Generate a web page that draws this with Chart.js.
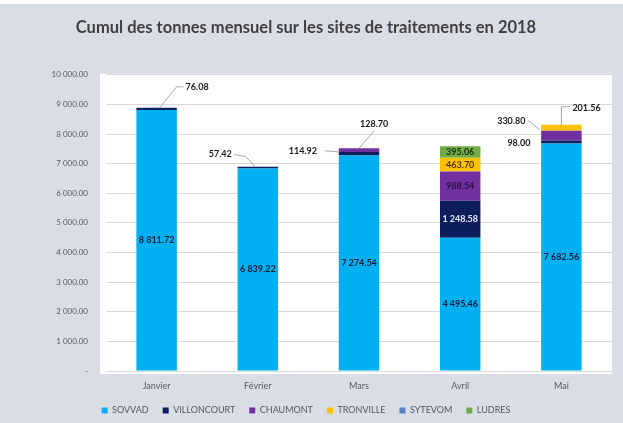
<!DOCTYPE html>
<html>
<head>
  <meta charset="utf-8">
  <title>Cumul des tonnes mensuel</title>
  <script src="https://cdn.jsdelivr.net/npm/chart.js"></script>
  <style>
    body { margin: 0; background: #fff; }
    canvas { display: block; }
  </style>
</head>
<body>
  <canvas id="chart" width="623" height="423"></canvas>

  <script>
    // data
    const months = ['Janvier', 'Février', 'Mars', 'Avril', 'Mai'];
    const sovvad      = [8811.72, 6839.22, 7274.54, 4495.46, 7682.56];
    const villoncourt = [76.08, 57.42, 114.92, 1248.58, 98.00];
    const chaumont    = [0, 0, 128.70, 988.54, 330.80];
    const tronville   = [0, 0, 0, 463.70, 201.56];
    const sytevom     = [0, 0, 0, 0, 0];
    const ludres      = [0, 0, 0, 395.06, 0];
    const yTicks = [0, 1000, 2000, 3000, 4000, 5000, 6000, 7000, 8000, 9000, 10000];

    const font = 'Lato, "Open Sans", sans-serif';

    // "8 811.72"
    function fmt(v) {
      const parts = v.toFixed(2).split('.');
      parts[0] = parts[0].replace(/\B(?=(\d{3})+(?!\d))/g, ' ');
      return parts.join('.');
    }

    // labels that sit outside the bar with a leader line (offsets from segment centre)
    const outside = {
      '1:0': { dx: 29, dy: -22, align: 'left',  line: [[3, -1], [20, -22], [27, -22]] },
      '1:1': { dx: -26, dy: -13, align: 'right', line: [[-3, -1], [-12, -11], [-24, -13]] },
      '1:2': { dx: -42, dy: -3, align: 'right', line: [[-21, -2], [-34, -3]] },
      '2:2': { dx: 1, dy: -26, align: 'left',  line: [[0, -2], [15, -19]] },
      '1:4': { dx: -31, dy: 1, align: 'right', line: null },
      '2:4': { dx: -36, dy: -15, align: 'right', line: [[-22, -6], [-33, -15]] },
      '3:4': { dx: 11, dy: -20, align: 'left',  line: [[0, -2], [0, -21], [9, -21]] }
    };
    const insideColors = ['#141b3a', '#dfe8f8', '#2a0f48', '#4a3300', '#10204a', '#1d2e0c'];

    const bgPlugin = {
      id: 'bg',
      beforeDraw: (chart) => {
        const c = chart.ctx;
        const a = chart.chartArea;
        c.save();
        c.fillStyle = '#d9dee6';
        c.fillRect(0, 4, chart.width, chart.height - 4);
        c.fillStyle = '#ffffff';
        c.fillRect(a.left - 6, a.top - 1, a.right - a.left + 6, a.bottom - a.top + 4);
        c.restore();
      }
    };

    // legend is shorter than chart.js wants, so the plot can go lower
    const legendFit = {
      id: 'legendFit',
      beforeLayout: (chart) => {
        const lg = chart.legend;
        if (!lg || lg._patched) return;
        const fit = lg.fit;
        lg.fit = function () { fit.call(this); this.height = 30; };
        lg._patched = true;
      }
    };

    const labelPlugin = {
      id: 'valueLabels',
      afterDatasetsDraw: (chart) => {
        const c = chart.ctx;
        c.save();
        c.font = 'bold 9px ' + font;
        c.textBaseline = 'middle';
        chart.data.datasets.forEach((ds, di) => {
          const meta = chart.getDatasetMeta(di);
          meta.data.forEach((bar, i) => {
            const v = ds.data[i];
            if (!v) return;
            const cy = (bar.y + bar.base) / 2;
            const key = di + ':' + i;
            const o = outside[key];
            if (o) {
              if (o.line) {
                c.strokeStyle = '#a6a6a6';
                c.lineWidth = 1;
                c.beginPath();
                o.line.forEach((p, k) => {
                  const px = bar.x + p[0], py = cy + p[1];
                  if (k === 0) c.moveTo(px, py); else c.lineTo(px, py);
                });
                c.stroke();
              }
              c.fillStyle = '#1a1a1a';
              c.textAlign = o.align;
              c.fillText(fmt(v), bar.x + o.dx, cy + o.dy);
            } else {
              c.fillStyle = insideColors[di];
              c.textAlign = 'center';
              c.fillText(fmt(v), bar.x, cy);
            }
          });
        });
        c.restore();
      }
    };

    const ctx = document.getElementById('chart').getContext('2d');

    const chart = new Chart(ctx, {
      type: 'bar',
      data: {
        labels: months,
        datasets: [
          { label: 'SOVVAD', data: sovvad, backgroundColor: '#00b0f0' },
          { label: 'VILLONCOURT', data: villoncourt, backgroundColor: '#0c1f5c' },
          { label: 'CHAUMONT', data: chaumont, backgroundColor: '#7030a0' },
          { label: 'TRONVILLE', data: tronville, backgroundColor: '#ffc000' },
          { label: 'SYTEVOM', data: sytevom, backgroundColor: '#5b7fbf' },
          { label: 'LUDRES', data: ludres, backgroundColor: '#70ad47' }
        ]
      },
      options: {
        responsive: false,
        animation: false,
        datasets: {
          bar: { categoryPercentage: 1, barPercentage: 0.4, borderWidth: 0 }
        },
        layout: { padding: { left: 0, right: 11, top: 0, bottom: 1 } },
        plugins: {
          title: {
            display: true,
            text: 'Cumul des tonnes mensuel sur les sites de traitements en 2018',
            color: '#404040',
            font: { family: font, size: 16.5, weight: 'bold' },
            padding: { top: 18, bottom: 37 }
          },
          legend: {
            position: 'bottom',
            labels: {
              color: '#595959',
              font: { family: font, size: 9 },
              boxWidth: 6,
              boxHeight: 6,
              padding: 14
            }
          },
          tooltip: { enabled: false }
        },
        scales: {
          x: {
            stacked: true,
            afterFit: (axis) => { axis.height = 21; },
            grid: { display: false, drawTicks: false },
            border: { color: '#d9d9d9' },
            ticks: { color: '#595959', font: { family: font, size: 9 }, padding: 10 }
          },
          y: {
            stacked: true,
            min: 0,
            max: 10000,
            afterBuildTicks: (axis) => { axis.ticks = yTicks.map(v => ({ value: v })); },
            afterFit: (axis) => { axis.width = 106; },
            grid: { color: '#d9d9d9', drawTicks: false },
            border: { display: false },
            ticks: {
              color: '#595959',
              font: { family: font, size: 8 },
              padding: 18,
              callback: (v) => v === 0 ? '-' : fmt(v)
            }
          }
        }
      },
      plugins: [bgPlugin, legendFit, labelPlugin]
    });
  </script>
</body>
</html>
